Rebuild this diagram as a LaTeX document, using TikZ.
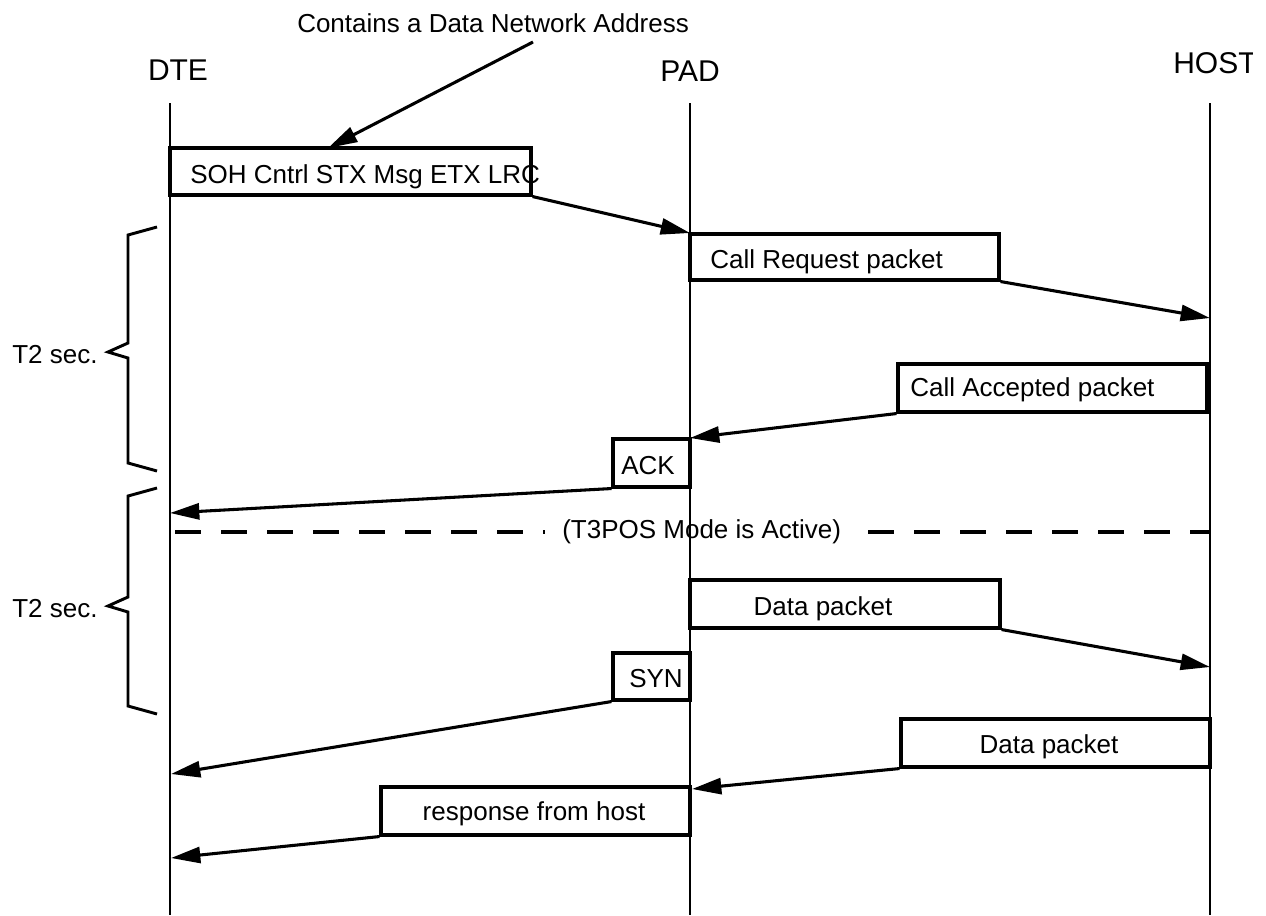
\documentclass[tikz,border=0pt]{standalone}
\usepackage{fontspec}
\setmainfont{Liberation Sans}
\usetikzlibrary{arrows.meta,fit}
\begin{document}
\begin{tikzpicture}[x=0.75pt,y=-0.75pt,
  lifeline/.style={line width=1.8pt},
  msgbox/.style={draw, line width=2.3pt, inner sep=0pt},
  msgarrow/.style={line width=2.3pt, -{Triangle[length=22pt,width=12pt]}},
  lbl/.style={font=\fontsize{19.5}{23}\selectfont, inner sep=0pt},
  actor/.style={font=\fontsize{22.5}{27}\selectfont, inner sep=0pt},
  bracket/.style={line width=2.2pt, line join=miter},
  sepline/.style={line width=2.6pt, dash pattern=on 19.5pt off 15pt}]
\useasboundingbox (0,0) rectangle (1266,915);
\clip (0,0) rectangle (1266,915);

% actors and their lifelines
\node[actor, anchor=base] (dte) at (178,80) {DTE};
\node[actor, anchor=base] (pad) at (690,81) {PAD};
\begin{scope}
  \clip (0,0) rectangle (1252,915);
  \node[actor, anchor=base west] (host) at (1173,73) {HOST};
\end{scope}

\coordinate (dteTop) at (170,103);  \coordinate (dteBot) at (170,915);
\coordinate (padTop) at (690,103);  \coordinate (padBot) at (690,915);
\coordinate (hostTop) at (1210,103); \coordinate (hostBot) at (1210,915);
\draw[lifeline] (dteTop) -- (dteBot);
\draw[lifeline] (padTop) -- (padBot);
\draw[lifeline] (hostTop) -- (hostBot);

% note on the first frame
\node[lbl, anchor=base west] (note) at (297,32) {Contains a Data Network Address};
\coordinate (noteFrom) at (533,42);
\coordinate (noteTo) at (328,148);

% message boxes
\node[msgbox, fit={(170,148) (531,195)}] (soh) {};
\node[lbl, anchor=base west] (sohT) at (190,183) {SOH Cntrl STX Msg ETX LRC};

\node[msgbox, fit={(690,234) (999,280)}] (creq) {};
\node[lbl, anchor=base west] (creqT) at (710,268) {Call Request packet};

\node[msgbox, fit={(898,364) (1207,412)}] (cacc) {};
\node[lbl, anchor=base west] (caccT) at (910,396) {Call Accepted packet};

\node[msgbox, fit={(613,439) (690,487)}] (ack) {};
\node[lbl, anchor=base] (ackT) at (648,474) {ACK};

\node[msgbox, fit={(690,580) (1000,628)}] (dup) {};
\node[lbl, anchor=base] (dupT) at (823,615) {Data packet};

\node[msgbox, fit={(613,653) (690,700)}] (syn) {};
\node[lbl, anchor=base] (synT) at (656,687) {SYN};

\node[msgbox, fit={(901,719) (1210,767)}] (dlow) {};
\node[lbl, anchor=base] (dlowT) at (1049,753) {Data packet};

\node[msgbox, fit={(381,787) (690,835)}] (resp) {};
\node[lbl, anchor=base] (respT) at (534,820) {response from host};

% arrival points on the lifelines
\coordinate (padIn1) at (690,233);
\coordinate (hostIn1) at (1210,318);
\coordinate (padIn2) at (690,438);
\coordinate (dteIn1) at (170,513);
\coordinate (hostIn2) at (1210,667);
\coordinate (dteIn2) at (171,774);
\coordinate (padIn3) at (692,789);
\coordinate (dteIn3) at (171,858);

% messages
\draw[msgarrow] (noteFrom) -- (noteTo);
\draw[msgarrow] (soh.south east) -- (padIn1);
\draw[msgarrow] (creq.south east) -- (hostIn1);
\draw[msgarrow] (cacc.south west) -- (padIn2);
\draw[msgarrow] (ack.south west) -- (dteIn1);
\draw[msgarrow] (dup.south east) -- (hostIn2);
\draw[msgarrow] (syn.south west) -- (dteIn2);
\draw[msgarrow] (dlow.south west) -- (padIn3);
\draw[msgarrow] (resp.south west) -- (dteIn3);

% mode separator
\node[lbl, anchor=base west] (mode) at (562,538) {(T3POS Mode is Active)};
\coordinate (sepA) at (175,532); \coordinate (sepB) at (545,532);
\coordinate (sepC) at (868,532); \coordinate (sepD) at (1210,532);
\draw[sepline] (sepA) -- (sepB);
\draw[sepline] (sepC) -- (sepD);

% timer brackets
\draw[bracket] (157,227) -- (128,235) -- (128,343) -- (108,352) -- (128,358) -- (128,463) -- (157,471);
\draw[bracket] (157,488) -- (128,496) -- (128,597) -- (108,606) -- (128,612) -- (128,706) -- (157,714);
\node[lbl, anchor=base west] (t2a) at (12,363) {T2 sec.};
\node[lbl, anchor=base west] (t2b) at (12,617) {T2 sec.};
\end{tikzpicture}
\end{document}
